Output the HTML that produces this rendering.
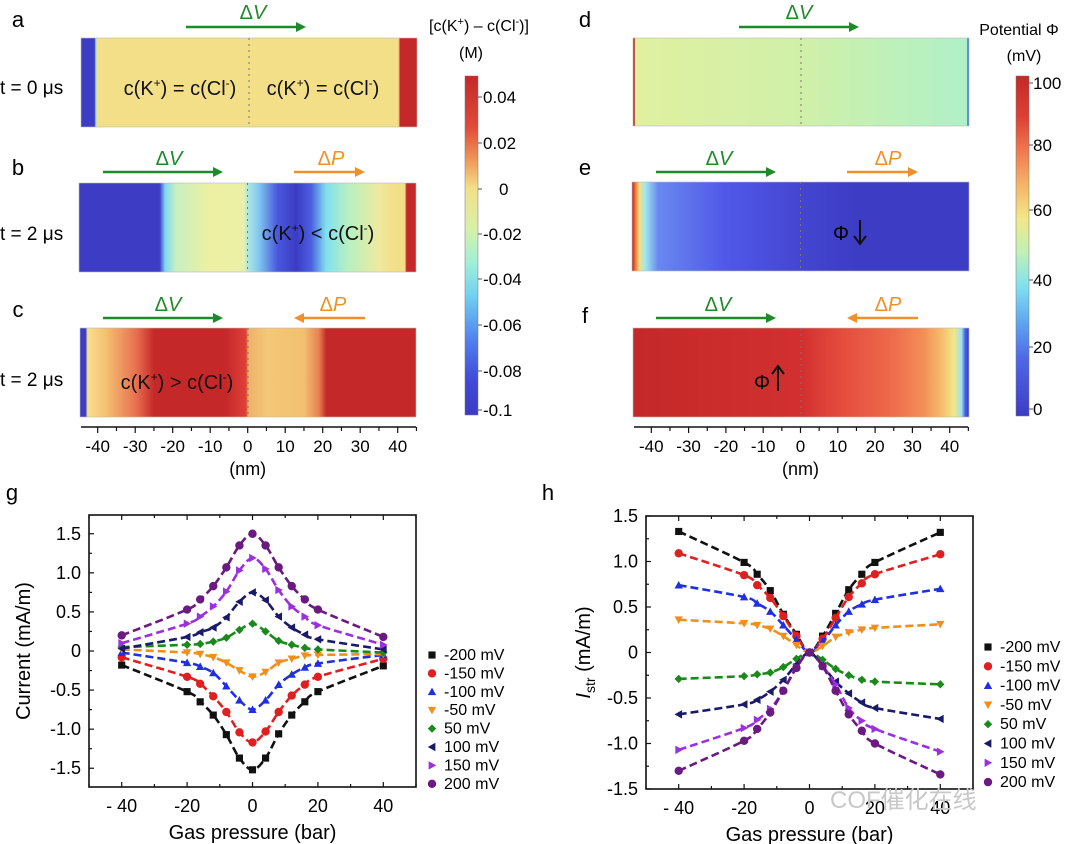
<!DOCTYPE html>
<html><head><meta charset="utf-8"><style>
html,body{margin:0;padding:0;background:#fff;}
svg{display:block;font-family:"Liberation Sans","Noto Sans CJK SC",sans-serif;}
</style></head><body>
<svg id="fig" width="1080" height="844" viewBox="0 0 1080 844" xmlns="http://www.w3.org/2000/svg">
<defs id="defs"></defs>
<g id="topPanels"></g>
<g id="chartG"></g>
<g id="chartH"></g>
<text x="830" y="808" font-size="24" fill="#c8c8c8">COF催化在线</text>
</svg>
<script>
const pressures = [-40,-20,-16,-12,-8,-4,0,4,8,12,16,20,40];
const seriesNames = ['-200 mV','-150 mV','-100 mV','-50 mV','50 mV','100 mV','150 mV','200 mV'];
const gM200 = [-0.18,-0.52,-0.65,-0.82,-1.07,-1.37,-1.52,-1.37,-1.06,-0.82,-0.65,-0.52,-0.19];
const gM150 = [-0.08,-0.33,-0.42,-0.58,-0.78,-1.04,-1.17,-1.03,-0.78,-0.57,-0.43,-0.33,-0.10];
const gM100 = [-0.02,-0.15,-0.20,-0.28,-0.45,-0.63,-0.75,-0.63,-0.43,-0.30,-0.21,-0.16,-0.05];
const gM50 = [0.02,-0.02,-0.04,-0.08,-0.15,-0.25,-0.33,-0.27,-0.15,-0.10,-0.06,-0.05,-0.04];
const gP50 = [0.05,0.08,0.09,0.12,0.17,0.27,0.35,0.25,0.13,0.08,0.04,0.02,-0.02];
const gP100 = [0.03,0.18,0.24,0.30,0.43,0.63,0.75,0.65,0.44,0.30,0.21,0.15,0.02];
const gP150 = [0.10,0.35,0.44,0.57,0.76,1.03,1.19,1.05,0.78,0.57,0.44,0.33,0.08];
const gP200 = [0.20,0.53,0.66,0.83,1.07,1.35,1.50,1.35,1.07,0.83,0.66,0.53,0.18];
const hM200 = [1.33,0.99,0.86,0.68,0.42,0.20,0,0.18,0.43,0.69,0.86,0.99,1.32];
const hM150 = [1.09,0.85,0.74,0.60,0.40,0.18,0,0.15,0.38,0.61,0.76,0.86,1.08];
const hM100 = [0.74,0.61,0.54,0.45,0.30,0.14,0,0.12,0.30,0.45,0.53,0.58,0.70];
const hM50 = [0.36,0.32,0.30,0.26,0.18,0.08,0,0.07,0.17,0.22,0.25,0.27,0.31];
const hP50 = [-0.29,-0.26,-0.24,-0.22,-0.16,-0.07,0,-0.08,-0.18,-0.25,-0.30,-0.32,-0.35];
const hP100 = [-0.68,-0.57,-0.52,-0.43,-0.30,-0.13,0,-0.15,-0.32,-0.45,-0.55,-0.61,-0.73];
const hP150 = [-1.07,-0.83,-0.74,-0.62,-0.42,-0.16,0,-0.15,-0.35,-0.61,-0.75,-0.84,-1.09];
const hP200 = [-1.30,-0.97,-0.84,-0.66,-0.42,-0.17,0,-0.15,-0.42,-0.68,-0.86,-1.00,-1.34];
const xTicks = [-40,-20,0,20,40];
const xTickLabels = ['- 40','-20','0','20','40'];
const yTicks = [-1.5,-1.0,-0.5,0,0.5,1.0,1.5];
const yTickLabels = ['-1.5','-1.0','-0.5','0','0.5','1.0','1.5'];
const nmTicks = [-40,-30,-20,-10,0,10,20,30,40];

const NS='http://www.w3.org/2000/svg';
function mk(tag,attrs,parent){const e=document.createElementNS(NS,tag);for(const k in attrs)e.setAttribute(k,attrs[k]);if(parent)parent.appendChild(e);return e;}
const defs=document.getElementById('defs');
const topG=document.getElementById('topPanels');

const B='#3c3cc4',Y='#f3df88',R='#c42828';
const grads={
 a:[[-45,B],[-41.4,B],[-41,'#a0e0e0'],[-40.6,Y],[40,Y],[40.5,R],[45,R]],
 b:[[-45,B],[-23.5,B],[-22,'#80d8f0'],[-19,'#c8f0c0'],[-10,'#eef0a0'],[-1,'#eaf0a8'],[0,'#b0e8e0'],[3,'#80c8f0'],[8,'#4a58dc'],[13,B],[17,'#4a60e0'],[21,'#80e0f0'],[27,'#b8f0c0'],[35,'#eeeaa0'],[39,Y],[42,Y],[42.5,R],[45,R]],
 c:[[-45,B],[-43.5,B],[-43,'#f8e090'],[-38,'#f3c070'],[-30,'#e87050'],[-25,R],[-6,R],[-0.5,'#e04038'],[0,'#f0b068'],[5,'#f3c878'],[15,'#f2c070'],[19,'#e88050'],[21,R],[45,R]],
 d:[[-45,'#c83020'],[-44.6,'#c83020'],[-44.4,'#e0f0a0'],[0,'#d0f0a8'],[44.4,'#b0f0c8'],[44.6,'#4080e0'],[45,'#4080e0']],
 e:[[-45,'#c02020'],[-44,'#f08040'],[-43,'#f0e080'],[-41.5,'#a0e8f0'],[-38,'#6888f0'],[-20,'#5058e8'],[0,'#4446d0'],[15,B],[45,B]],
 f:[[-45,R],[0,'#d23030'],[10,'#e44a3c'],[25,'#ee6c4c'],[33,'#f39058'],[38,'#f5c070'],[41,'#f0e888'],[43,'#a0e0f0'],[44,'#4060e0'],[45,B]]
};
for(const k in grads){const lg=mk('linearGradient',{id:'g'+k,x1:0,x2:1,y1:0,y2:0},defs);
 grads[k].forEach(s=>mk('stop',{offset:((s[0]+45)/90).toFixed(4),'stop-color':s[1]},lg));}
const cbL=mk('linearGradient',{id:'cbL',x1:0,x2:0,y1:0,y2:1},defs);
[[0,'#c42828'],[0.15,'#e04a38'],[0.25,'#f09a58'],[0.33,Y],[0.45,'#d8f0a8'],[0.55,'#a0f0d8'],[0.65,'#70d0f0'],[0.78,'#5080f0'],[0.9,'#4048d8'],[1,B]].forEach(s=>mk('stop',{offset:s[0],'stop-color':s[1]},cbL));
const cbR=mk('linearGradient',{id:'cbR',x1:0,x2:0,y1:0,y2:1},defs);
[[0,'#c42828'],[0.12,'#dc4034'],[0.22,'#f07850'],[0.32,'#f5b468'],[0.42,'#f2e888'],[0.52,'#c0f0b8'],[0.62,'#80e0f0'],[0.72,'#60a8f0'],[0.83,'#5068e8'],[1,B]].forEach(s=>mk('stop',{offset:s[0],'stop-color':s[1]},cbR));

function txt(x,y,s,attrs,name,parent){const t=mk('text',Object.assign({x:x,y:y},attrs||{}),parent||topG);t.textContent=s;
 
 return t;}
function arrow(x1,x2,y,col,name){const g=mk('g',{},topG);
 
 
 const dir=x2>x1?1:-1;
 mk('line',{x1:x1,y1:y,x2:x2-dir*6,y2:y,stroke:col,'stroke-width':2.5},g);
 mk('path',{d:`M${x2},${y} L${x2-dir*10},${y-5} L${x2-dir*10},${y+5} Z`,fill:col},g);}
function delta(x,y,letter,col,name){const t=mk('text',{x:x,y:y,'font-size':20,fill:col,'text-anchor':'middle'},topG);
 t.innerHTML='Δ<tspan font-style="italic">'+letter+'</tspan>';
 
 }

const GREEN='#1f8a2a',ORANGE='#f0902a';
function panel(k,x0,x1,y0,y1,name){const r=mk('rect',{x:x0,y:y0,width:x1-x0,height:y1-y0,fill:'url(#g'+k+')',stroke:'#bbb','stroke-width':0.6},topG);
 
 
 const cx=x0+(x1-x0)*45/90;
 mk('line',{x1:cx,x2:cx,y1:y0,y2:y1,stroke:'#777','stroke-width':1,'stroke-dasharray':'2,4'},topG);}
panel('a',81,417,38,127,'heatmap-a');panel('b',79,416,183,272,'heatmap-b');panel('c',80,416,328,417,'heatmap-c');
panel('d',633,969,38,126,'heatmap-d');panel('e',632,969,182,271,'heatmap-e');panel('f',633,969,328,417,'heatmap-f');
[['a',18,27],['b',18,175],['c',18,317],['d',585,27],['e',585,175],['f',585,323]].forEach(p=>txt(p[1],p[2],p[0],{'font-size':22,'text-anchor':'middle'},'panel-label-'+p[0]));
txt(0,94,'t = 0 μs',{'font-size':19},'time-label-a');
txt(0,240,'t = 2 μs',{'font-size':19},'time-label-b');
txt(0,386,'t = 2 μs',{'font-size':19},'time-label-c');
function ion(x,y,op,name){const t=mk('text',{x:x,y:y,'font-size':20,'text-anchor':'middle',fill:'#111'},topG);
 t.innerHTML='c(K<tspan dy="-8" font-size="12">+</tspan><tspan dy="8">) '+op+' c(Cl</tspan><tspan dy="-8" font-size="12">-</tspan><tspan dy="8">)</tspan>';
 
 }
ion(180,95,'=','label-equal-left');ion(323,95,'=','label-equal-right');ion(318,240,'&lt;','label-less');ion(177,389,'&gt;','label-greater');
txt(833,240,'Φ',{'font-size':20},'phi-down-label');
mk('path',{d:'M860,220 L860,243 M854,236 L860,244 L866,236',stroke:'#111','stroke-width':2,fill:'none'},topG);
txt(754,389,'Φ',{'font-size':20},'phi-up-label');
mk('path',{d:'M778,391 L778,367 M772,374 L778,366 L784,374',stroke:'#111','stroke-width':2,fill:'none'},topG);
arrow(186,306,27,GREEN,'delta-v-arrow-a');delta(253,19,'V',GREEN,'delta-v-label-a');
arrow(103,223,172,GREEN,'delta-v-arrow-b');delta(169,165,'V',GREEN,'delta-v-label-b');
arrow(294,365,172,ORANGE,'delta-p-arrow-b');delta(331,165,'P',ORANGE,'delta-p-label-b');
arrow(103,223,318,GREEN,'delta-v-arrow-c');delta(168,311,'V',GREEN,'delta-v-label-c');
arrow(365,294,318,ORANGE,'delta-p-arrow-c');delta(333,311,'P',ORANGE,'delta-p-label-c');
arrow(739,859,27,GREEN,'delta-v-arrow-d');delta(799,19,'V',GREEN,'delta-v-label-d');
arrow(656,776,172,GREEN,'delta-v-arrow-e');delta(719,165,'V',GREEN,'delta-v-label-e');
arrow(847,918,172,ORANGE,'delta-p-arrow-e');delta(888,165,'P',ORANGE,'delta-p-label-e');
arrow(656,776,318,GREEN,'delta-v-arrow-f');delta(718,311,'V',GREEN,'delta-v-label-f');
arrow(918,847,318,ORANGE,'delta-p-arrow-f');delta(888,311,'P',ORANGE,'delta-p-label-f');
function nmAxis(x0,x1,zero,scale,name){const g=mk('g',{},topG);
 
 
 mk('line',{x1:x0,x2:x1,y1:427,y2:427,stroke:'#111','stroke-width':1.5},g);
 for(let v=-45;v<=45;v+=5){const x=zero+v*scale;if(x<x0-1||x>x1+1)continue;mk('line',{x1:x,x2:x,y1:427,y2:v%10===0?433:431,stroke:'#111','stroke-width':1.2},g);}
 nmTicks.forEach(v=>{const t=mk('text',{x:zero+v*scale,y:452,'font-size':17,'text-anchor':'middle'},g);t.textContent=v;});
 const t=mk('text',{x:zero,y:475,'font-size':18,'text-anchor':'middle'},g);t.textContent='(nm)';}
nmAxis(81,416,247.7,3.75,'x-axis-nm-left');nmAxis(634,968,800.5,3.73,'x-axis-nm-right');
const c1=mk('rect',{x:465,y:76,width:13,height:339,fill:'url(#cbL)',stroke:'#777','stroke-width':0.5},topG);

[['0.04',97],['0.02',143],['0',189],['-0.02',234],['-0.04',279],['-0.06',325],['-0.08',371],['-0.1',410]].forEach(l=>{mk('line',{x1:478,x2:482,y1:l[1],y2:l[1],stroke:'#555'},topG);txt(l[0]==='0'?499:483,l[1]+6,l[0],{'font-size':17},'colorbar-left-tick');});
const t1=mk('text',{x:479,y:31,'font-size':16,'text-anchor':'middle'},topG);
t1.innerHTML='[c(K<tspan dy="-6" font-size="11">+</tspan><tspan dy="6">) – c(Cl</tspan><tspan dy="-6" font-size="11">-</tspan><tspan dy="6">)]</tspan>';

txt(471,58,'(M)',{'font-size':16,'text-anchor':'middle'},'colorbar-left-unit');
const c2=mk('rect',{x:1016,y:76,width:13,height:340,fill:'url(#cbR)',stroke:'#777','stroke-width':0.5},topG);

[['100',83],['80',145],['60',210],['40',280],['20',347],['0',409]].forEach(l=>{mk('line',{x1:1029,x2:1033,y1:l[1],y2:l[1],stroke:'#555'},topG);txt(1033,l[1]+6,l[0],{'font-size':17},'colorbar-right-tick');});
txt(1019,35,'Potential Φ',{'font-size':16,'text-anchor':'middle'},'colorbar-right-title');
txt(1024,61,'(mV)',{'font-size':16,'text-anchor':'middle'},'colorbar-right-unit');

const colors=['#111111','#e02020','#2030e0','#f0901a','#1a8a1a','#1a1a6a','#9a30e0','#6a1a80'];
const markers=['square','circle','up','down','diamond','left','right','circle'];
function marker(g,type,x,y,c){const s=4.2;let d;
 if(type==='square')return mk('rect',{x:x-s*0.85,y:y-s*0.85,width:s*1.7,height:s*1.7,fill:c},g);
 if(type==='circle')return mk('circle',{cx:x,cy:y,r:s,fill:c},g);
 if(type==='up')d=`M${x},${y-s} L${x+s},${y+s*0.8} L${x-s},${y+s*0.8}Z`;
 if(type==='down')d=`M${x},${y+s} L${x+s},${y-s*0.8} L${x-s},${y-s*0.8}Z`;
 if(type==='diamond')d=`M${x},${y-s} L${x+s},${y} L${x},${y+s} L${x-s},${y}Z`;
 if(type==='left')d=`M${x-s},${y} L${x+s*0.8},${y-s} L${x+s*0.8},${y+s}Z`;
 if(type==='right')d=`M${x+s},${y} L${x-s*0.8},${y-s} L${x-s*0.8},${y+s}Z`;
 return mk('path',{d:d,fill:c},g);}
function smooth(pts){let d=`M${pts[0][0]},${pts[0][1]}`;
 for(let i=0;i<pts.length-1;i++){const p0=pts[i-1]||pts[i],p1=pts[i],p2=pts[i+1],p3=pts[i+2]||p2;
  const c1x=p1[0]+(p2[0]-p0[0])/6,c1y=p1[1]+(p2[1]-p0[1])/6,c2x=p2[0]-(p3[0]-p1[0])/6,c2y=p2[1]-(p3[1]-p1[1])/6;
  d+=` C${c1x.toFixed(2)},${c1y.toFixed(2)} ${c2x.toFixed(2)},${c2y.toFixed(2)} ${p2[0]},${p2[1]}`;}
 return d;}
function chart(root,cfg,series){
 const X=v=>cfg.x0+(v+50)/100*(cfg.x1-cfg.x0);
 const Yf=v=>cfg.y1-(v-cfg.ymin)/(cfg.ymax-cfg.ymin)*(cfg.y1-cfg.y0);
 const fr=mk('rect',{x:cfg.x0,y:cfg.y0,width:cfg.x1-cfg.x0,height:cfg.y1-cfg.y0,fill:'none',stroke:'#111','stroke-width':1.6},root);
 
 for(let v=-50;v<=50;v+=10){const x=X(v);mk('line',{x1:x,x2:x,y1:cfg.y1,y2:cfg.y1-(v%20===0?5:3),stroke:'#111','stroke-width':1.2},root);mk('line',{x1:x,x2:x,y1:cfg.y0,y2:cfg.y0+(v%20===0?5:3),stroke:'#111','stroke-width':1.2},root);}
 xTicks.forEach((v,i)=>{const t=mk('text',{x:X(v),y:cfg.y1+25,'font-size':18,'text-anchor':'middle'},root);t.textContent=xTickLabels[i];
  });
 for(let v=-1.5;v<=1.51;v+=0.25){const y=Yf(v);const major=Math.abs(v*2-Math.round(v*2))<1e-6;mk('line',{x1:cfg.x0,x2:cfg.x0+(major?5:3),y1:y,y2:y,stroke:'#111','stroke-width':1.2},root);}
 yTicks.forEach((v,i)=>{const t=mk('text',{x:cfg.x0-8,y:Yf(v)+6,'font-size':18,'text-anchor':'end'},root);t.textContent=yTickLabels[i];
  });
 const xt=mk('text',{x:(cfg.x0+cfg.x1)/2,y:cfg.y1+52,'font-size':20,'text-anchor':'middle'},root);xt.textContent='Gas pressure (bar)';
 
 const yt=mk('text',{x:0,y:0,'font-size':20,'text-anchor':'middle',transform:`translate(${cfg.ytx},${(cfg.y0+cfg.y1)/2}) rotate(-90)`},root);yt.innerHTML=cfg.ytitle;
 
 series.forEach((vals,si)=>{const g=mk('g',{},root);
  
  
  const pts=pressures.map((p,i)=>[+X(p).toFixed(2),+Yf(vals[i]).toFixed(2)]);
  mk('path',{d:smooth(pts),fill:'none',stroke:colors[si],'stroke-width':2.6,'stroke-dasharray':'8,4'},g);
  pts.forEach(p=>marker(g,markers[si],p[0],p[1],colors[si]));
  const lg=mk('g',{},root);
  
  
  const ly=cfg.ly0+si*cfg.lstep;
  marker(lg,markers[si],cfg.lx,ly,colors[si]);
  const t=mk('text',{x:cfg.lx+12,y:ly+5,'font-size':16},lg);t.textContent=seriesNames[si];});
 const lbl=mk('text',{x:cfg.labx,y:cfg.laby,'font-size':22,'text-anchor':'middle'},root);lbl.textContent=cfg.label;
 
}
chart(document.getElementById('chartG'),{x0:89,x1:416,y0:515,y1:787,ymin:-1.74,ymax:1.74,ytx:30,ytitle:'Current (mA/m)',lx:432,ly0:655,lstep:18.4,labx:12,laby:500,label:'g'},
 [gM200,gM150,gM100,gM50,gP50,gP100,gP150,gP200]);
chart(document.getElementById('chartH'),{x0:646,x1:973,y0:516,y1:789,ymin:-1.5,ymax:1.5,ytx:590,ytitle:'<tspan font-style="italic">I</tspan><tspan font-size="14" dy="5">str</tspan><tspan dy="-5"> (mA/m)</tspan>',lx:988,ly0:647,lstep:19.3,labx:548,laby:500,label:'h'},
 [hM200,hM150,hM100,hM50,hP50,hP100,hP150,hP200]);
</script>
</body></html>
